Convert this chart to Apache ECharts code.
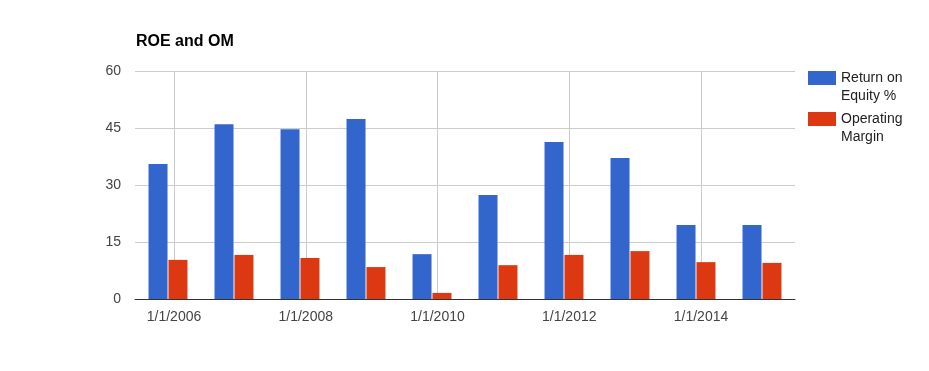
<!DOCTYPE html>
<html>
<head>
<meta charset="utf-8">
<script src="https://cdn.jsdelivr.net/npm/echarts@6/dist/echarts.min.js"></script>
<style>html,body{margin:0;padding:0;background:#fff}#c{width:929px;height:371px}</style>
</head>
<body>
<div id="c"></div>
<script>
const years = ['2006','2007','2008','2009','2010','2011','2012','2013','2014','2015'];
const roe = [35.5, 46.0, 44.7, 47.4, 11.8, 27.4, 41.3, 37.1, 19.5, 19.5];
const om = [10.3, 11.6, 10.8, 8.4, 1.6, 8.9, 11.6, 12.6, 9.7, 9.5];
const seriesNames = ['Return on\nEquity %', 'Operating\nMargin'];
const yTicks = {min: 0, max: 60, interval: 15};
const dateTicks = {min: 2006, max: 2014, interval: 2};

const FONT = 'Liberation Sans, Arial, sans-serif';
const chart = echarts.init(document.getElementById('c'));
chart.setOption({
  animation: false,
  textStyle: {fontFamily: FONT},
  title: {
    text: 'ROE and OM', left: 136, top: 34, padding: 0,
    textStyle: {fontFamily: FONT, fontSize: 16, fontWeight: 'bold', color: '#000'}
  },
  legend: {
    orient: 'vertical', left: 808, top: 51, padding: 0,
    itemWidth: 28, itemHeight: 14, itemGap: -13,
    icon: 'rect',
    formatter: name => ' \n' + name,
    textStyle: {fontFamily: FONT, fontSize: 14, color: '#222', lineHeight: 18},
    data: seriesNames
  },
  grid: [
    {left: 135, right: 134, top: 71, bottom: 72},
    {left: 174, right: 228, top: 71, bottom: 72}
  ],
  xAxis: [
    {
      type: 'category', gridIndex: 0, data: years,
      axisLine: {show: true, lineStyle: {color: '#333', width: 1}},
      axisTick: {show: false}, axisLabel: {show: false}, splitLine: {show: false}
    },
    {
      type: 'value', gridIndex: 1, min: dateTicks.min, max: dateTicks.max, interval: dateTicks.interval,
      axisLine: {show: false}, axisTick: {show: false},
      axisLabel: {show: true, margin: 11, fontFamily: FONT, fontSize: 14, color: '#444',
        formatter: v => '1/1/' + v},
      splitLine: {show: true, lineStyle: {color: '#ccc', width: 1}}
    }
  ],
  yAxis: [
    {
      type: 'value', gridIndex: 0, min: yTicks.min, max: yTicks.max, interval: yTicks.interval,
      axisLine: {show: false}, axisTick: {show: false},
      axisLabel: {margin: 14, fontFamily: FONT, fontSize: 14, color: '#444'},
      splitLine: {show: true, lineStyle: {color: '#ccc', width: 1}}
    },
    {
      type: 'value', gridIndex: 1, min: yTicks.min, max: yTicks.max, show: false,
      splitLine: {show: false}
    }
  ],
  series: [
    {name: seriesNames[0], type: 'bar', xAxisIndex: 0, yAxisIndex: 0, data: roe,
      barWidth: 19, barGap: '5%', itemStyle: {color: '#3366cc'}},
    {name: seriesNames[1], type: 'bar', xAxisIndex: 0, yAxisIndex: 0, data: om,
      barWidth: 19, barGap: '5%', itemStyle: {color: '#dc3912'}}
  ]
});
</script>
</body>
</html>
